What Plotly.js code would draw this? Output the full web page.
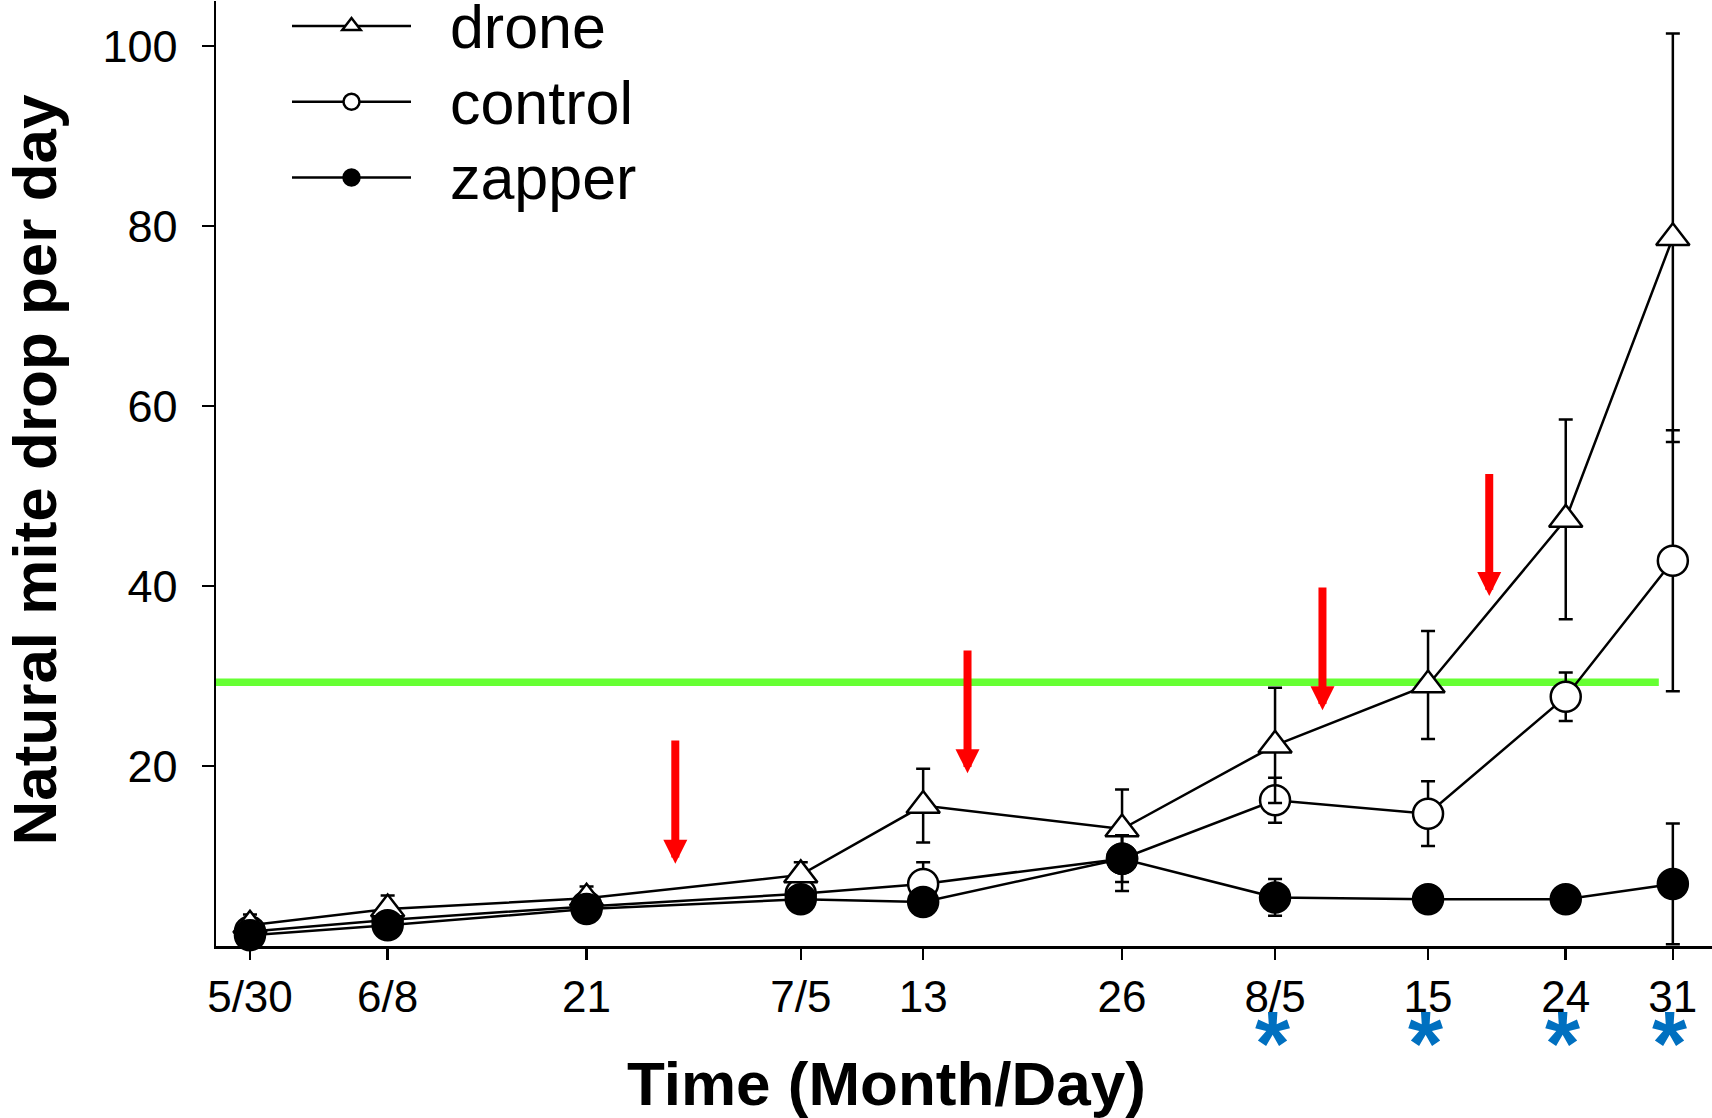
<!DOCTYPE html>
<html><head><meta charset="utf-8">
<script src="https://cdn.plot.ly/plotly-3.0.1.min.js"></script>
<style>html,body{margin:0;padding:0;background:#fff;} #chart{width:1712px;height:1118px;}</style>
</head><body><div id="chart"></div>
<script>
// ---- data ----
const dates = ['2023-05-30','2023-06-08','2023-06-21','2023-07-05','2023-07-13','2023-07-26','2023-08-05','2023-08-15','2023-08-24','2023-08-31'];
const tickLabels = ['5/30','6/8','21','7/5','13','26','8/5','15','24','31'];
const seriesNames = ['drone', 'control', 'zapper'];
const droneMean   = [2.3, 4.1, 5.3, 7.9, 15.6, 13.0, 22.3, 29.0, 47.4, 78.7];
const droneErr    = [1.2, 1.5, 1.3, 1.4, 4.1, 4.4, 6.4, 6.0, 11.1, 22.7];
const controlMean = [1.6, 2.9, 4.4, 5.8, 6.9, 9.7, 16.2, 14.7, 27.7, 42.8];
const controlErr  = [0.5, 0.6, 0.6, 0.8, 2.4, 3.6, 2.5, 3.6, 2.7, 14.5];
const zapperMean  = [1.2, 2.3, 4.1, 5.2, 4.9, 9.7, 5.4, 5.2, 5.2, 6.9];
const zapperErr   = [0.4, 0.5, 0.5, 0.6, 0.8, 2.6, 2.05, 0.6, 0.6, 6.7];
const yTickVals = [20, 40, 60, 80, 100];
const thresholdValue = 29.3;
const thresholdEnd = '2023-08-30 02:00';
const arrowDates = ['2023-06-26 19:12','2023-07-15 21:36','2023-08-08 02:24','2023-08-19 00:00'];
const arrowTop = [23.0, 33.0, 40.0, 52.6];
const arrowTip = [9.15, 19.2, 26.2, 38.9];
const starDates = ['2023-08-05','2023-08-15','2023-08-24','2023-08-31'];

const FONT = 'Liberation Sans, Arial, Helvetica, sans-serif';
const xRange = ['2023-05-27 18:43','2023-09-02 13:26'];

function legendName(n) {
  return '<span style="font-size:61px">\u00a0\u00a0' + n + '</span>';
}

function series(name, y, err, symbol, fill, rank) {
  return {
    x: dates, y: y, name: legendName(name), type: 'scatter', mode: 'lines+markers',
    legendrank: rank, cliponaxis: false,
    line: {color: '#000', width: 2.5},
    marker: {symbol: symbol, size: symbol === 'triangle-up' ? 29 : 30, color: fill, line: {color: '#000', width: 2.5}},
    error_y: {type: 'data', array: err, visible: true, color: '#000', thickness: 2.5, width: 7}
  };
}

const traces = [
  series(seriesNames[1], controlMean, controlErr, 'circle', '#fff', 2),
  series(seriesNames[0], droneMean, droneErr, 'triangle-up', '#fff', 1),
  series(seriesNames[2], zapperMean, zapperErr, 'circle', '#000', 3)
];

const annotations = [];
arrowDates.forEach((d, i) => {
  annotations.push({
    x: d, y: arrowTip[i], ax: d, ay: arrowTop[i], xref: 'x', yref: 'y', axref: 'x', ayref: 'y',
    text: '', showarrow: true, arrowhead: 2, arrowsize: 0.6, arrowwidth: 8, arrowcolor: '#ff0000', standoff: 0
  });
});
starDates.forEach(d => {
  annotations.push({
    x: d, y: -0.104, xref: 'x', yref: 'paper', text: '*', showarrow: false,
    xanchor: 'center', yanchor: 'middle', xshift: -3,
    font: {family: FONT, size: 90, color: '#0070c0', weight: 'bold'}
  });
});
annotations.push({
  x: 0.4485, y: -0.1451, xref: 'paper', yref: 'paper', showarrow: false,
  text: '<b>Time (Month/Day)</b>', xanchor: 'center', yanchor: 'middle',
  font: {family: FONT, size: 62, color: '#000'}
});
annotations.push({
  x: -0.121, y: 0.5042, xref: 'paper', yref: 'paper', showarrow: false, textangle: -90,
  text: '<b>Natural mite drop per day</b>', xanchor: 'center', yanchor: 'middle',
  font: {family: FONT, size: 62, color: '#000'}
});

const shapes = [{
  type: 'line', xref: 'x', yref: 'y', x0: xRange[0], x1: thresholdEnd, y0: thresholdValue, y1: thresholdValue,
  line: {color: '#66ff33', width: 7.5}, layer: 'below'
}];

const layout = {
  width: 1712, height: 1118,
  margin: {l: 216, r: 0, t: 1, b: 172, pad: 0, autoexpand: false},
  paper_bgcolor: '#fff', plot_bgcolor: '#fff',
  font: {family: FONT, color: '#000'},
  showlegend: true,
  legend: {x: (287 - 216) / 1496, y: 1.019, xanchor: 'left', yanchor: 'top', bgcolor: 'rgba(0,0,0,0)',
    borderwidth: 0, itemwidth: 119, font: {family: FONT, size: 56, color: '#000'}, traceorder: 'normal'},
  xaxis: {
    type: 'date', range: xRange, tickvals: dates, ticktext: tickLabels,
    showline: true, linecolor: '#000', linewidth: 2.5, ticks: 'outside', ticklen: 11, tickwidth: 2.5, tickcolor: '#000',
    showgrid: false, zeroline: false, tickfont: {family: FONT, size: 44, color: '#000'}, ticklabelstandoff: 0
  },
  yaxis: {
    range: [0, 105], tickvals: yTickVals, ticktext: yTickVals.map(String),
    showline: true, linecolor: '#000', linewidth: 2.5, ticks: 'outside', ticklen: 12, tickwidth: 2.5, tickcolor: '#000',
    showgrid: false, zeroline: false, tickfont: {family: FONT, size: 45, color: '#000'}, ticklabelstandoff: 15
  },
  annotations: annotations,
  shapes: shapes
};

Plotly.newPlot('chart', traces, layout, {displayModeBar: false, staticPlot: true});
</script>
</body></html>
